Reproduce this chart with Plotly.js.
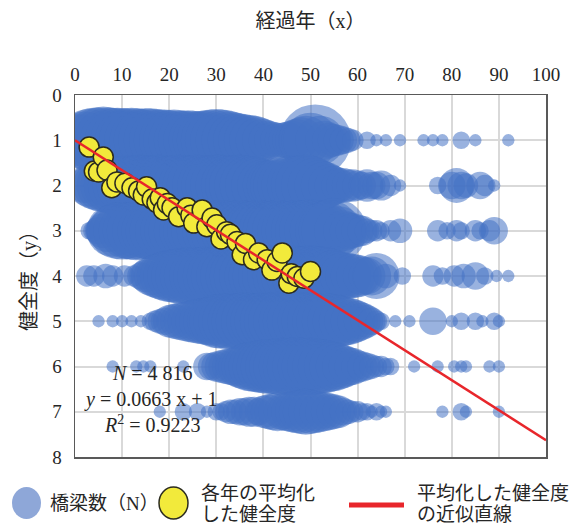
<!DOCTYPE html>
<html><head><meta charset="utf-8">
<script src="https://cdn.plot.ly/plotly-3.0.1.min.js"></script>
<style>html,body{margin:0;padding:0;background:#fff}#chart{width:579px;height:526px}</style>
</head><body><div id="chart"></div>
<script>
// ---------- data ----------
const xTickVals = [0,10,20,30,40,50,60,70,80,90,100];
const yTickVals = [0,1,2,3,4,5,6,7,8];

// health rating levels (y) and, per level, elapsed years (x) with bridge counts (N)
const levels = [1,2,3,4,5,6,7];

const lvl1Years = [1,2,3,4,5,6,7,8,9,10,11,12,13,14,15,16,17,18,19,20,21,22,23,24,25,26,27,28,29,30,31,32,33,34,35,36,37,38,39,40,41,42,43,44,45,46,47,48,49,50,51,52,53,54,55,56,57,58,59,62,64,66,69,74,76,78,82,85,92];
const lvl1Counts = [18,22,26,28,29,30,29,28,28,27,27,28,27,26,27,27,26,25,25,24,25,24,23,24,23,22,23,24,25,26,25,24,22,20,19,18,17,16,14,12,10,9,8,8,9,10,12,14,16,20,34,16,10,8,7,6,5,4,3,2,1,1,1,1,1,1,2,1,1];

const lvl2Years = [2,3,4,5,6,7,8,9,10,11,12,13,14,15,16,17,18,19,20,21,22,23,24,25,26,27,28,29,30,31,32,33,34,35,36,37,38,39,40,41,42,43,44,45,46,47,48,49,50,51,52,53,54,55,56,57,58,59,60,61,62,63,64,65,67,69,77,80,81,82,83,86,87,89];
const lvl2Counts = [8,12,15,17,19,20,22,23,23,24,23,24,25,24,23,24,25,24,23,24,25,24,23,24,25,24,23,24,25,25,24,23,24,25,24,23,22,20,18,17,18,20,22,23,24,23,24,25,23,20,17,15,12,10,8,8,7,7,6,5,7,5,5,6,3,1,2,5,8,5,4,5,3,1];

const lvl3Years = [3,4,5,6,7,8,9,10,11,12,13,14,15,16,17,18,19,20,21,22,23,24,25,26,27,28,29,30,31,32,33,34,35,36,37,38,39,40,41,42,43,44,45,46,47,48,49,50,51,52,53,54,55,56,57,58,59,60,61,62,63,64,65,67,69,77,79,81,82,85,86,88,89];
const lvl3Counts = [2,3,5,8,12,18,21,22,21,22,23,22,21,22,23,24,23,22,23,24,23,22,23,24,25,24,23,24,25,24,23,24,25,24,23,24,25,24,23,24,25,24,23,24,25,24,25,26,25,24,23,25,28,16,11,9,8,7,6,4,3,3,2,3,4,3,2,3,2,3,2,3,5];

const lvl4Years = [2.5,4,6.5,8,10.5,12.5,14,15,16,17,18,19,20,21,22,23,24,25,26,27,28,29,30,31,32,33,34,35,36,37,38,39,40,41,42,43,44,45,46,47,48,49,50,51,52,53,54,55,56,57,58,59,60,61,62,63,64,66,69.5,76,78,80.5,82.5,85,87,89.5,92];
const lvl4Counts = [3,3,4,3,3,3,5,7,10,12,14,16,18,19,20,21,21,22,21,22,23,22,23,24,23,24,23,24,25,24,23,24,25,24,25,24,23,24,25,24,23,24,25,24,23,22,20,18,16,15,14,13,12,10,9,10,14,4,2,3,2,3,4,5,2,1,1];

const lvl5Years = [5,8,10,12,14,16,17,18,19,20,21,22,23,24,25,26,27,28,29,30,31,32,33,34,35,36,37,38,39,40,41,42,43,44,45,46,47,48,49,50,51,52,53,54,55,56,57,58,59,60,61,62,63,64,65,68,71,76,80,82,85,86.5,89,90];
const lvl5Counts = [1,1,1,1,1,2,3,4,5,7,8,9,10,11,12,13,14,15,16,19,20,20,21,20,21,22,21,20,21,22,21,22,23,22,21,22,23,22,21,22,21,20,21,20,19,18,16,15,13,11,9,7,5,3,2,1,1,5,1,2,2,1,2,1];

const lvl6Years = [8,13,14.5,16,23,28,29,30,31,32,33,34,35,36,37,38,39,40,41,42,43,44,45,46,47,48,49,50,51,52,53,54,55,56,57,58,59,60,61,62,63,64,65,66,67,72,77,80.5,82,83,88,90];
const lvl6Counts = [1,1,1,1,1,5,5,6,7,8,9,10,12,14,16,17,18,19,20,20,21,22,21,22,23,22,21,22,21,20,19,17,16,14,12,10,9,7,6,5,4,3,3,2,2,1,1,1,1,1,1,1];

const lvl7Years = [18,23,26,28,30,31,32,33,34,35,36,37,38,39,40,41,42,43,44,45,46,47,48,49,50,51,52,53,54,55,56,57,58,59,60,61,62,63,64,65,66,78,82,83,90];
const lvl7Counts = [1,2,2,1,2,2,3,4,4,5,5,6,6,5,7,8,9,10,9,10,11,12,13,14,13,12,11,10,9,8,7,5,4,3,3,2,2,1,2,1,1,1,2,1,1];

// yearly averaged health rating
const avgYears = [3.0,4.1,5.0,6.0,6.8,7.8,8.9,10.6,12.1,13.5,14.5,15.2,16.4,17.4,18.1,18.8,19.6,20.6,22.0,23.8,24.6,25.2,27.0,28.0,29.1,30.1,31.0,32.2,33.0,34.4,35.5,36.2,37.9,39.0,40.8,41.8,42.9,44.0,45.4,45.9,47.2,48.6,50.0];
const avgRatings = [1.15,1.68,1.70,1.37,1.66,2.05,1.92,1.95,2.05,2.12,2.21,2.03,2.30,2.38,2.27,2.54,2.40,2.49,2.69,2.49,2.66,2.83,2.54,2.91,2.72,2.87,3.18,3.02,3.08,3.24,3.53,3.28,3.64,3.49,3.64,3.87,3.68,3.49,4.16,3.95,4.01,4.05,3.90];

// approximate line of the averaged rating: y = 0.0663 x + 1
const fitSlope = 0.0663;
const fitIntercept = 1;
const fitYears = [0, 100];

// ---------- build traces ----------
const lvlYears = [lvl1Years,lvl2Years,lvl3Years,lvl4Years,lvl5Years,lvl6Years,lvl7Years];
const lvlCounts = [lvl1Counts,lvl2Counts,lvl3Counts,lvl4Counts,lvl5Counts,lvl6Counts,lvl7Counts];
let bx = [], by = [], bs = [];
levels.forEach((lv, i) => {
  lvlYears[i].forEach((yr, j) => { bx.push(yr); by.push(lv); bs.push(lvlCounts[i][j]); });
});

const serif = "'Liberation Serif','Noto Sans CJK JP',serif";
const txtColor = '#262626';

const bubbles = {
  type: 'scatter', mode: 'markers', x: bx, y: by, name: '橋梁数（N）',
  marker: { size: bs, sizemode: 'area', sizeref: 2/121/1.25, color: 'rgba(68,114,196,0.78)', line: {width: 0} },
  hoverinfo: 'skip', showlegend: false
};
const averages = {
  type: 'scatter', mode: 'markers', x: avgYears, y: avgRatings, name: '各年の平均化した健全度',
  marker: { size: 20, color: '#F2EA3B', line: {color: '#2b2b1f', width: 1.5} },
  hoverinfo: 'skip', showlegend: false
};
const fitLine = {
  type: 'scatter', mode: 'lines', x: fitYears, y: fitYears.map(v => fitSlope * v + fitIntercept),
  name: '平均化した健全度の近似直線', line: {color: '#E8262B', width: 2.5},
  hoverinfo: 'skip', showlegend: false
};

// ---------- layout ----------
const W = 579, H = 526, L = 75, R = 33, T = 95, B = 69;
const pw = W - L - R, ph = H - T - B;
const PX = p => (p - L) / pw;
const PY = p => (H - B - p) / ph;
const legFont = {family: serif, size: 19, color: txtColor};

const layout = {
  width: W, height: H,
  margin: {l: L, r: R, t: T, b: B, pad: 0},
  paper_bgcolor: '#fff', plot_bgcolor: '#fff',
  font: {family: serif, color: txtColor},
  showlegend: false,
  xaxis: {
    range: [0, 100], side: 'top', tickvals: xTickVals, ticks: '',
    showgrid: true, gridcolor: '#d9d9d9', gridwidth: 2, zeroline: false,
    showline: true, mirror: true, linecolor: '#595959', linewidth: 1.5,
    ticklabelstandoff: 5,
    tickfont: {family: serif, size: 19, color: txtColor},
    title: {text: '経過年（x）', font: {family: serif, size: 20, color: txtColor}, standoff: 30}
  },
  yaxis: {
    range: [8, 0], tickvals: yTickVals, ticks: '',
    showgrid: true, gridcolor: '#d9d9d9', gridwidth: 2, zeroline: false,
    showline: true, mirror: true, linecolor: '#595959', linewidth: 1.5,
    ticklabelstandoff: 8,
    tickfont: {family: serif, size: 19, color: txtColor},
    title: {text: '健全度（y）', font: {family: serif, size: 20, color: txtColor}, standoff: 10}
  },
  annotations: [
    {xref:'paper', yref:'paper', x: PX(152), y: PY(373), xanchor: 'center', yanchor: 'middle', text: '<i>N</i> = 4 816', showarrow: false, font: {family: serif, size: 20, color: txtColor}},
    {xref:'paper', yref:'paper', x: PX(150), y: PY(399), xanchor: 'center', yanchor: 'middle', text: '<i>y</i> = 0.0663 x + 1', showarrow: false, font: {family: serif, size: 20, color: txtColor}},
    {xref:'paper', yref:'paper', x: PX(152), y: PY(424), xanchor: 'center', yanchor: 'middle', text: '<i>R</i><sup>2</sup> = 0.9223', showarrow: false, font: {family: serif, size: 20, color: txtColor}},
    {xref:'paper', yref:'paper', x: PX(48), y: PY(503), xanchor: 'left', yanchor: 'middle', text: '橋梁数（N）', showarrow: false, font: legFont},
    {xref:'paper', yref:'paper', x: PX(199), y: PY(493), xanchor: 'left', yanchor: 'middle', text: '各年の平均化', showarrow: false, font: legFont},
    {xref:'paper', yref:'paper', x: PX(199), y: PY(514), xanchor: 'left', yanchor: 'middle', text: 'した健全度', showarrow: false, font: legFont},
    {xref:'paper', yref:'paper', x: PX(415), y: PY(493), xanchor: 'left', yanchor: 'middle', text: '平均化した健全度', showarrow: false, font: legFont},
    {xref:'paper', yref:'paper', x: PX(415), y: PY(514), xanchor: 'left', yanchor: 'middle', text: 'の近似直線', showarrow: false, font: legFont}
  ],
  shapes: [
    {type: 'circle', xref: 'paper', yref: 'paper', x0: PX(12), x1: PX(41), y0: PY(519), y1: PY(487), fillcolor: '#8EA7D8', line: {width: 0}},
    {type: 'circle', xref: 'paper', yref: 'paper', x0: PX(159), x1: PX(188), y0: PY(519), y1: PY(487), fillcolor: '#F2EA3B', line: {color: '#2b2b1f', width: 1.5}},
    {type: 'line', xref: 'paper', yref: 'paper', x0: PX(349), x1: PX(404), y0: PY(505), y1: PY(505), line: {color: '#E8262B', width: 5}}
  ]
};

Plotly.newPlot('chart', [bubbles, averages, fitLine], layout, {staticPlot: true, displayModeBar: false});
</script>
</body></html>
